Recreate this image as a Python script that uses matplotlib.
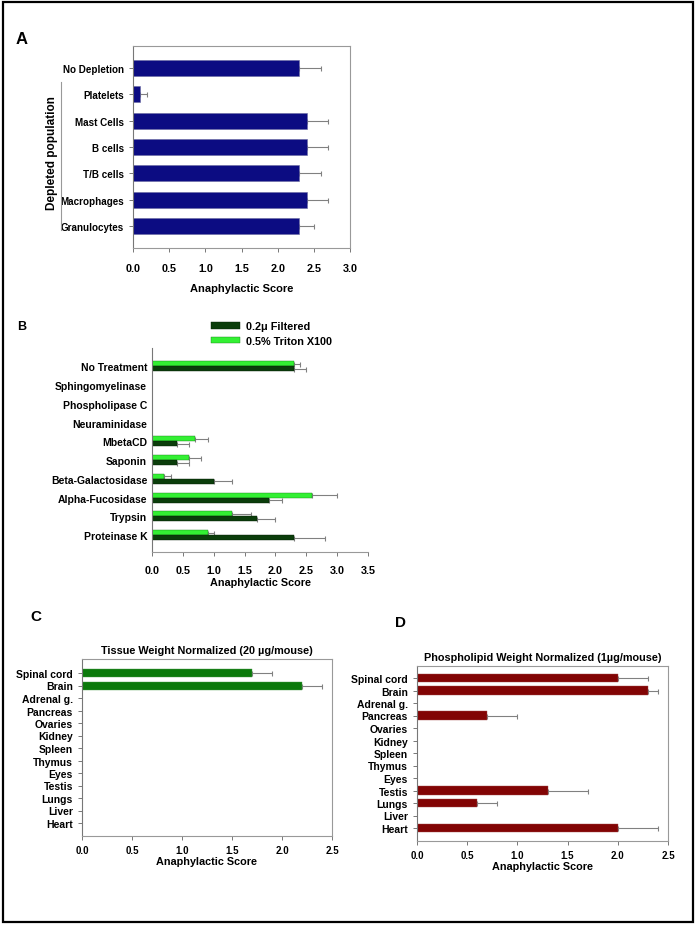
import numpy as np
import matplotlib
matplotlib.use('Agg')
import matplotlib.pyplot as plt
from matplotlib.patches import Rectangle

plt.rcParams['font.family'] = ['Liberation Sans', 'DejaVu Sans']
plt.rcParams['font.weight'] = 'bold'

# Panel A
a_labels = ['No Depletion', 'Platelets', 'Mast Cells', 'B cells', 'T/B cells', 'Macrophages', 'Granulocytes']
a_vals = [2.3, 0.1, 2.4, 2.4, 2.3, 2.4, 2.3]
a_err = [0.3, 0.1, 0.3, 0.3, 0.3, 0.3, 0.2]

# Panel B
b_labels = ['No Treatment', 'Sphingomyelinase', 'Phospholipase C', 'Neuraminidase', 'MbetaCD',
            'Saponin', 'Beta-Galactosidase', 'Alpha-Fucosidase', 'Trypsin', 'Proteinase K']
b_filt = [2.3, 0, 0, 0, 0.4, 0.4, 1.0, 1.9, 1.7, 2.3]
b_filt_err = [0.2, 0, 0, 0, 0.2, 0.2, 0.3, 0.2, 0.3, 0.5]
b_trit = [2.3, 0, 0, 0, 0.7, 0.6, 0.2, 2.6, 1.3, 0.9]
b_trit_err = [0.1, 0, 0, 0, 0.2, 0.2, 0.1, 0.4, 0.3, 0.1]

# Panels C and D
tissues = ['Spinal cord', 'Brain', 'Adrenal g.', 'Pancreas', 'Ovaries', 'Kidney', 'Spleen',
           'Thymus', 'Eyes', 'Testis', 'Lungs', 'Liver', 'Heart']
c_vals = [1.7, 2.2, 0, 0, 0, 0, 0, 0, 0, 0, 0, 0, 0]
c_err = [0.2, 0.2, 0, 0, 0, 0, 0, 0, 0, 0, 0, 0, 0]
d_vals = [2.0, 2.3, 0, 0.7, 0, 0, 0, 0, 0, 1.3, 0.6, 0, 2.0]
d_err = [0.3, 0.1, 0, 0.3, 0, 0, 0, 0, 0, 0.4, 0.2, 0, 0.4]

W, H = 697, 928
fig = plt.figure(figsize=(W / 100, H / 100), dpi=100)

def box(l, t, r, b):
    return [l / W, 1 - b / H, (r - l) / W, (b - t) / H]

def errs(ax, vals, err, ys):
    vals = np.array(vals, float)
    err = np.array(err, float)
    m = err > 0
    ax.errorbar(vals[m], np.array(ys)[m], xerr=[np.zeros(m.sum()), err[m]], fmt='none',
                ecolor='#808080', elinewidth=0.8, capsize=1.8, capthick=0.8, zorder=1)

def style(ax, gray_frame=True):
    for s in ax.spines.values():
        s.set_color('#999999')
        s.set_linewidth(0.8)
    ax.spines['left'].set_color('#777777')
    ax.tick_params(axis='both', color='#777777', labelcolor='black', length=3, width=0.7)
    if not gray_frame:
        ax.spines['top'].set_visible(False)
        ax.spines['right'].set_visible(False)

# outer frame
fig.patches.append(Rectangle((3 / W, 1 - 923 / H), 690 / W, 920 / H, transform=fig.transFigure,
                             fill=False, edgecolor='black', linewidth=1.6))

# ---- A
axA = fig.add_axes(box(133, 47, 350, 249))
ya = np.arange(len(a_labels))
axA.barh(ya, a_vals, height=0.61, color='#0c0c82', edgecolor='#6a6aa0', linewidth=0.4, zorder=2)
errs(axA, a_vals, a_err, ya)
axA.set_xlim(0, 3.0)
axA.set_ylim(len(a_labels) - 1 + 0.84, -0.84)
axA.set_yticks(ya)
axA.set_yticklabels(a_labels, fontsize=7.1, fontweight='bold')
axA.set_xticks(np.arange(0, 3.01, 0.5))
axA.set_xticklabels(['%.1f' % v for v in np.arange(0, 3.01, 0.5)], fontsize=7.8, fontweight='bold')
axA.set_xlabel('Anaphylactic Score', fontsize=8, fontweight='bold', labelpad=7)
style(axA)
axA.tick_params(axis='x', pad=8)
fig.text(52 / W, 1 - 153 / H, 'Depleted population', rotation=90, ha='center', va='center',
         fontsize=8.5, fontweight='bold')
fig.add_artist(plt.Line2D([61 / W, 61 / W], [1 - 83 / H, 1 - 231 / H], color='#999999', lw=0.8))
fig.text(22 / W, 1 - 39 / H, 'A', ha='center', va='center', fontsize=12, fontweight='bold')

# ---- B
axB = fig.add_axes(box(152, 349, 368, 553))
yb = np.arange(len(b_labels))
off = 0.135
axB.barh(yb - off, b_trit, height=0.27, color='#33f033', edgecolor='#1a801a', linewidth=0.3,
         zorder=2, label='0.5% Triton X100')
axB.barh(yb + off, b_filt, height=0.27, color='#0b3d0b', edgecolor='#062006', linewidth=0.3,
         zorder=2, label='0.2\u03bc Filtered')
errs(axB, b_trit, b_trit_err, yb - off)
errs(axB, b_filt, b_filt_err, yb + off)
axB.set_xlim(0, 3.5)
axB.set_ylim(len(b_labels) - 1 + 0.9, -0.98)
axB.set_yticks(yb)
axB.set_yticklabels(b_labels, fontsize=7.5, fontweight='bold')
axB.set_xticks(np.arange(0, 3.51, 0.5))
axB.set_xticklabels(['%.1f' % v for v in np.arange(0, 3.51, 0.5)], fontsize=7.8, fontweight='bold')
axB.set_xlabel('Anaphylactic Score', fontsize=7.8, fontweight='bold', labelpad=2)
style(axB, gray_frame=False)
axB.tick_params(axis='y', length=0)
axB.tick_params(axis='x', pad=6)
h, l = axB.get_legend_handles_labels()
fig.legend(h[::-1], l[::-1], loc='upper left', bbox_to_anchor=(207 / W, 1 - 318 / H),
           frameon=False, prop={'size': 7.8, 'weight': 'bold'}, handlelength=2.6,
           handleheight=0.5, handletextpad=0.6, labelspacing=0.4, borderaxespad=0)
fig.text(22 / W, 1 - 327 / H, 'B', ha='center', va='center', fontsize=9, fontweight='bold')

# ---- C
axC = fig.add_axes(box(82, 660, 332, 837))
yt = np.arange(len(tissues))
axC.barh(yt, c_vals, height=0.64, color='#0b790b', edgecolor='#4a9a4a', linewidth=0.3, zorder=2)
errs(axC, c_vals, c_err, yt)
axC.set_xlim(0, 2.5)
axC.set_ylim(len(tissues) - 1 + 1.04, -1.12)
axC.set_yticks(yt)
axC.set_yticklabels(tissues, fontsize=7.5, fontweight='bold')
axC.set_xticks(np.arange(0, 2.51, 0.5))
axC.set_xticklabels(['%.1f' % v for v in np.arange(0, 2.51, 0.5)], fontsize=7, fontweight='bold')
axC.set_xlabel('Anaphylactic Score', fontsize=7.8, fontweight='bold', labelpad=1)
axC.set_title('Tissue Weight Normalized (20 \u00b5g/mouse)', fontsize=7.8, fontweight='bold', pad=4)
style(axC)
fig.text(36 / W, 1 - 617 / H, 'C', ha='center', va='center', fontsize=11, fontweight='bold')

# ---- D
axD = fig.add_axes(box(417, 667, 668, 842))
axD.barh(yt, d_vals, height=0.66, color='#820404', edgecolor='#a04a4a', linewidth=0.3, zorder=2)
errs(axD, d_vals, d_err, yt)
axD.set_xlim(0, 2.5)
axD.set_ylim(len(tissues) - 1 + 1.04, -0.96)
axD.set_yticks(yt)
axD.set_yticklabels(tissues, fontsize=7.5, fontweight='bold')
axD.set_xticks(np.arange(0, 2.51, 0.5))
axD.set_xticklabels(['%.1f' % v for v in np.arange(0, 2.51, 0.5)], fontsize=7, fontweight='bold')
axD.set_xlabel('Anaphylactic Score', fontsize=7.8, fontweight='bold', labelpad=1)
axD.set_title('Phospholipid Weight Normalized (1\u00b5g/mouse)', fontsize=7.8, fontweight='bold', pad=4)
style(axD)
fig.text(400 / W, 1 - 623 / H, 'D', ha='center', va='center', fontsize=11, fontweight='bold')

fig.savefig('out.png', dpi=100)
